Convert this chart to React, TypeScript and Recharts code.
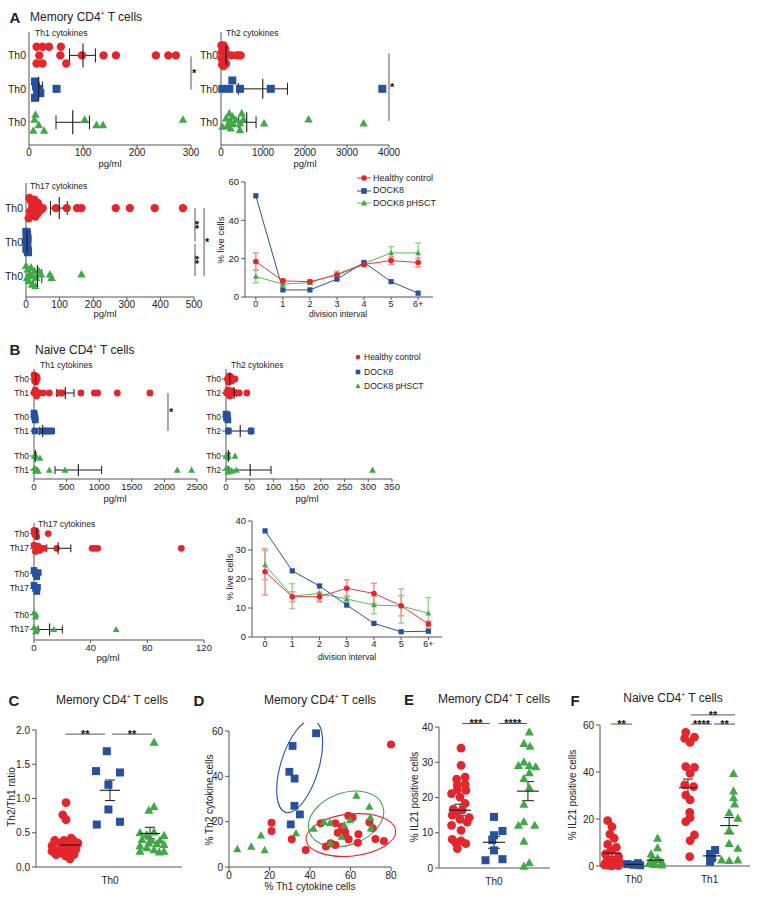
import React from 'react'
import {
  ScatterChart, Scatter, LineChart, Line, XAxis, YAxis, ErrorBar, ReferenceLine, ReferenceDot, Legend,
} from 'recharts'

const RED = '#e4252b'
const BLUE = '#27509e'
const GREEN = '#3fa947'
const INK = '#222'
const AXIS = '#555'
const FONT = '"Liberation Sans", Arial, Helvetica, sans-serif'

const groupNames = ['Healthy control', 'DOCK8', 'DOCK8 pHSCT']
const groupColors = [RED, BLUE, GREEN]
const groupKinds = ['dot', 'sq', 'tri']
const lineColors = ['#e8373c', '#2d50a0', '#5ab65a']
const errColors = ['#ef9494', '#2d50a0', '#98d193']

// ---------- A: memory CD4 cytokines, [pg/ml, row jitter]
const memRows = [3, 2, 1]
const memTh1Hc = [[14, .26], [25, .26], [37, .26], [59, .26], [19, 0], [58, 0], [98, 0], [138, 0], [161, 0], [235, 0], [258, 0], [272, 0], [14, -.24], [25, -.24], [69, -.24]]
const memTh1D8 = [[11, .22], [13, .07], [19, 0], [21, -.13], [11, -.27], [15, -.08], [51, 0]]
const memTh1Ph = [[12, .23], [10, .08], [18, -.08], [8, -.25], [28, -.25], [103, .08], [125, -.08], [137, -.08], [285, .08]]
const memTh1Stats = [[100, 75, 123], [18, 13, 25], [81, 50, 112]]
const memTh1Sig = [[300, 2.97, 300, 1.98, '*', 'right']]

const memTh2Hc = [[10, .3], [30, .25], [60, .3], [100, .2], [20, .1], [80, .12], [130, .05], [40, 0], [70, -.05], [110, 0], [15, -.1], [50, -.15], [90, -.2], [25, -.28], [120, -.25], [60, -.32], [254, 0], [374, 0], [437, 0], [469, 0]]
const memTh2D8 = [[32, 0], [199, 0], [270, .25], [453, 0], [1185, 0], [3841, 0]]
const memTh2Ph = [[32, -.13], [119, .12], [199, .27], [278, .17], [358, .07], [151, -.11], [231, -.18], [175, -.05], [294, -.05], [453, -.03], [493, .27], [533, .09], [453, -.23], [215, .05], [1026, -.03], [2083, .09], [3396, -.03]]
const memTh2Stats = [[120, 95, 150], [994, 414, 1582], [612, 421, 835]]
const memTh2Sig = [[4000, 3.06, 4000, 1.04, '*', 'right']]

const memTh17Hc = [[10, .3], [15, .2], [25, .25], [35, .15], [20, .1], [30, 0], [40, .05], [45, -.05], [12, -.1], [22, -.2], [35, -.15], [50, 0], [8, -.3], [28, -.25], [18, 0], [89, 0], [121, 0], [152, 0], [165, 0], [267, 0], [309, 0], [383, 0], [467, 0]]
const memTh17D8 = [[1, .3], [3, .2], [5, .1], [2, 0], [4, -.1], [1, -.2], [6, -.3], [3, .25], [1, .05], [5, -.25]]
const memTh17Ph = [[0, .3], [5, .2], [15, .25], [25, .15], [10, .05], [20, 0], [30, -.05], [45, .05], [8, -.15], [18, -.25], [28, -.3], [3, -.05], [38, .15], [71, .05], [76, -.05], [165, .05]]
const memTh17Stats = [[99, 73, 123], [3, 2, 4], [34, 22, 47]]
const memTh17Sig = [[503, 3, 503, 2.02, '**', 'center', 90], [503, 1.95, 503, 1, '**', 'center', 90], [530, 3, 530, 1, '*', 'right']]

// ---------- B: naive CD4 cytokines, rows = HC Th0, HC ThX, DOCK8 Th0, DOCK8 ThX, pHSCT Th0, pHSCT ThX
const naiRows = [10, 8.6, 6.2, 4.8, 2.3, 0.9]
const naiTh1Hc0 = [[0, .4], [15, 0], [30, -.3], [45, .2], [10, -.2], [25, .3], [50, 0]]
const naiTh1Hc1 = [[0, 0], [20, .3], [40, -.3], [60, 0], [31, .1], [82, 0], [143, 0], [235, 0], [388, 0], [429, 0], [720, 0], [925, 0], [976, 0], [1278, 0], [1778, 0]]
const naiTh1D80 = [[0, .4], [10, 0], [20, -.3], [5, .2], [15, -.1]]
const naiTh1D81 = [[15, 0], [118, 0], [194, 0], [245, 0], [271, 0]]
const naiTh1Ph0 = [[5, 0], [31, 0], [92, -.2]]
const naiTh1Ph1 = [[5, .2], [20, -.1], [40, .1], [66, -.1], [235, 0], [475, 0], [2197, 0], [2417, 0]]
const naiTh1Stats = [[25, 15, 35], [480, 348, 613], null, [133, 85, 180], [20, 10, 30], [680, 322, 1037]]
const naiTh1Sig = [[2055, 8.6, 2055, 4.8, '*', 'right']]

const naiTh2Hc0 = [[3, 0], [7, .3], [12, -.2], [19, 0], [5, -.3], [10, .2]]
const naiTh2Hc2 = [[1, 0], [4, .3], [8, -.3], [12, .2], [6, -.1], [19, 0], [28, 0], [44, 0]]
const naiTh2D80 = [[0, .3], [2, 0], [4, -.3], [1, -.1], [3, .2]]
const naiTh2D82 = [[5, 0], [53, 0]]
const naiTh2Ph0 = [[0, 0], [5, 0], [19, 0]]
const naiTh2Ph2 = [[1, .2], [4, -.2], [8, 0], [12, -.1], [22, 0], [309, 0]]
const naiTh2Stats = [[8, 5, 11], [17, 12, 22], null, [30, 5, 53], [5, 2, 8], [51, 5, 95]]

const naiTh17Hc0 = [[0, .3], [1, 0], [2, -.3], [.5, -.1], [1.5, .2], [10, 0]]
const naiTh17Hc17 = [[0, .3], [1, -.3], [2, 0], [3, .2], [4, -.2], [5, 0], [7, 0], [16, 0], [41, 0], [43, 0], [45, 0], [104, 0]]
const naiTh17D80 = [[0, .3], [1, 0], [2, -.3], [3, .1]]
const naiTh17D817 = [[0, .3], [1, 0], [2, -.3], [2.5, .1]]
const naiTh17Ph0 = [[0, .2], [1, -.2], [1.5, 0]]
const naiTh17Ph17 = [[0, .2], [1, -.2], [2, 0], [14, 0], [58, 0]]
const naiTh17Stats = [[2, 1, 3], [17, 9, 26], null, null, null, [11, 3, 20]]

// ---------- proliferation (% live cells per division)
const divisions = [0, 1, 2, 3, 4, 5, 6]
const divisionLabels = ['0', '1', '2', '3', '4', '5', '6+']
const memLiveHc = [18.5, 8.4, 8, 11.5, 17, 19, 18]
const memLiveHcSem = [4.5, 1, 0.8, 1, 1, 2, 2.3]
const memLiveD8 = [52.8, 3.7, 3.7, 9.3, 18, 8, 2]
const memLivePh = [10.7, 6.7, 7.5, 12, 17.4, 23, 23]
const memLivePhSem = [3.3, 1, 1, 1.5, 1, 3.3, 5.2]
const naiLiveHc = [22.5, 13.9, 13.9, 16.8, 15, 10.8, 4.5]
const naiLiveHcSem = [8, 1.7, 1.5, 2.9, 3.5, 3.5, 1]
const naiLiveD8 = [36.6, 22.8, 17.6, 11, 4.7, 1.8, 2]
const naiLivePh = [24.8, 14.1, 15, 13.1, 11, 10.7, 8.2]
const naiLivePhSem = [5, 4.3, 3, 1, 3, 5.9, 5.4]

// ---------- C: Th2/Th1 ratio, [x jitter, value]
const ratioHc = [[-.1, .94], [-.18, .76], [-.1, .69], [.03, .42], [-.38, .39], [-.15, .39], [.1, .38], [-.25, .35], [0, .35], [-.45, .31], [.05, .31], [-.15, .28], [.15, .26], [-.3, .24], [-.45, .23], [-.05, .23], [.05, .21], [-.2, .2], [-.35, .18], [.1, .18], [-.1, .16], [0, .12], [.2, .35], [-.2, .31], [.08, .25]]
const ratioD8 = [[-.08, 1.69], [-.35, 1.4], [.25, 1.38], [-.04, 1.2], [-.04, .84], [-.33, .62], [.25, .66]]
const ratioPh = [[.1, 1.82], [.1, .88], [-.03, .83], [-.25, .5], [-.08, .47], [.1, .51], [.35, .46], [-.2, .4], [.04, .39], [.25, .39], [-.03, .35], [.17, .34], [-.25, .31], [.35, .33], [-.08, .28], [.1, .25], [-.25, .23], [.23, .22], [.35, .23]]
const ratioStats = [[.32, .28, .36], [1.12, .97, 1.27], [.49, .41, .58]]
const ratioSig = [[0.88, 1.94, 1.88, 1.94, '**', 'center'], [2.05, 1.94, 3.05, 1.94, '**', 'center']]

// ---------- D: % Th1 vs % Th2 cytokine cells
const cytoHc = [[21, 19.5], [21, 15.9], [31, 12.2], [37.9, 7.5], [45.3, 19.3], [47.9, 9], [50.2, 10.5], [52.5, 9.7], [52.5, 19.3], [53.7, 15.1], [55.8, 17.8], [57.3, 15.6], [57.4, 13.7], [59.1, 12.2], [58.9, 22.6], [61, 21.8], [63.9, 14.4], [63.6, 10.7], [69.3, 19.7], [71, 17.1], [72.3, 12.4], [76.5, 11.5], [80, 54]]
const cytoD8 = [[43, 59], [31.4, 53.4], [29.8, 42], [32.4, 39], [32.3, 27], [35, 23.2], [30.5, 18.8]]
const cytoPh = [[4.1, 7.9], [11, 9], [15.8, 14], [17.6, 7.5], [33.1, 14.9], [41.8, 16.9], [46.9, 19.9], [49.9, 19.5], [50, 10.5], [56.9, 18.5], [55.6, 13.4], [59.8, 20.7], [62.9, 31.5], [69.3, 26.6], [69.8, 21.8], [70.1, 17.1]]

// ---------- E: memory % IL21+
const il21MemHc = [[.03, 34], [.03, 29.1], [.15, 25.8], [-.1, 25.2], [.15, 23.7], [-.08, 23.6], [-.08, 22.3], [.17, 22], [-.25, 21.1], [0, 20.1], [.15, 18.3], [-.2, 16.7], [.06, 16.4], [-.13, 15.7], [.27, 14.3], [-.23, 15], [0, 13.8], [.21, 13], [-.25, 12.1], [.03, 10.7], [-.23, 8.1], [.03, 7.7], [-.13, 7.2], [.17, 6.9], [-.08, 5.5]]
const il21MemD8 = [[0, 14.5], [.25, 10.5], [0, 9.3], [-.05, 7.9], [0, 5], [-.25, 2.2], [.25, 2.5]]
const il21MemPh = [[.04, 38.6], [-.12, 35.3], [.06, 34.5], [-.12, 30.1], [-.28, 29.1], [.04, 29.1], [.23, 28.7], [.04, 27], [-.12, 25.4], [.04, 22.8], [-.12, 18.1], [-.12, 13.1], [.2, 12.1], [-.28, 12.1], [-.12, 7.6], [.04, 1.5], [-.12, .5]]
const il21MemStats = [[16.4, 14.8, 18.1], [7.3, 5.6, 9], [21.8, 19.1, 24.5]]
const il21MemSig = [[1.06, 41, 1.88, 41, '***', 'center'], [2.14, 41, 2.97, 41, '****', 'center']]

// ---------- F: naive % IL21+
const il21NaiHc0 = [[-.2, 19.3], [0, 16.7], [-.1, 13.6], [.1, 11.8], [-.2, 9.2], [.2, 7.9], [0, 6.5], [-.3, 5.1], [.3, 4], [-.1, 2.6], [.2, 1.8], [-.3, 1.1], [.1, .7], [-.2, .4], [.3, .2], [0, .1], [-.35, .5], [.35, 1.5], [-.1, .3], [.15, .8], [-.25, 2]]
const il21NaiD80 = [[-.3, .8], [.2, 1.2], [.3, .3], [0, .5]]
const il21NaiPh0 = [[.1, 11.8], [.1, 7.8], [-.2, 5.1], [.1, 3.3], [-.2, 2.6], [.3, 1.6], [-.3, 1.1], [0, .6], [.3, .4], [-.1, .7]]
const il21NaiHc1 = [[-.1, 56.9], [-.15, 54.3], [.3, 54.8], [.1, 52.6], [-.1, 42.3], [.3, 42], [.1, 39.4], [-.15, 34.5], [.26, 33.8], [-.1, 30.2], [.1, 28.1], [.08, 22.8], [.1, 20.6], [-.1, 18.9], [.3, 13.2], [.1, 10.8], [.08, 4]]
const il21NaiD81 = [[.15, 6.8], [-.08, 5.1], [0, 3.3], [-.08, 1.8]]
const il21NaiPh1 = [[.2, 39.4], [.2, 31.9], [.2, 29.1], [.25, 26.4], [0, 22.7], [.4, 20.3], [0, 15.3], [0, 9.6], [.4, 7.5], [-.35, 2.6], [0, 2.3], [.4, 2.6]]
const il21NaiStats = [[5.5, 4, 7], [.7, .3, 1.1], [2.5, 1.6, 3.5], [33.3, 29.5, 37], [4.3, 2.8, 5.8], [17.2, 13.7, 20.6]]
const il21NaiSig = [[0.95, 60.4, 1.92, 60.4, '**', 'center'], [4.64, 60.4, 5.61, 60.4, '****', 'center'], [5.7, 60.4, 6.67, 60.4, '**', 'center'], [4.64, 64.3, 6.67, 64.3, '**', 'center']]

function Mark(props: any) {
  const { cx, cy, kind, color, s } = props
  if (cx == null || cy == null || Number.isNaN(cx) || Number.isNaN(cy)) return <g />
  if (kind === 'sq') return <rect x={cx - s} y={cy - s} width={2 * s} height={2 * s} fill={color} />
  if (kind === 'tri')
    return <polygon points={`${cx},${cy - 1.15 * s} ${cx - 1.1 * s},${cy + 0.85 * s} ${cx + 1.1 * s},${cy + 0.85 * s}`} fill={color} />
  return <circle cx={cx} cy={cy} r={s} fill={color} />
}

function MeanTick(props: any) {
  const { cx, cy, horiz, len } = props
  if (cx == null || cy == null) return <g />
  return horiz
    ? <line x1={cx} x2={cx} y1={cy - len} y2={cy + len} stroke="#1a1a1a" strokeWidth={1.1} />
    : <line x1={cx - len} x2={cx + len} y1={cy} y2={cy} stroke="#1a1a1a" strokeWidth={1.1} />
}

function Ring(props: any) {
  const { cx, cy, rx, ry, rot, color } = props
  if (cx == null || cy == null) return <g />
  return <ellipse cx={cx} cy={cy} rx={rx} ry={ry} transform={`rotate(${rot} ${cx} ${cy})`} fill="none" stroke={color} strokeWidth={1.1} />
}

function KeyList({ withLine, size, gap }: any) {
  return (
    <div style={{ fontSize: size, lineHeight: `${gap}px`, color: INK, fontFamily: FONT }}>
      {groupNames.map((name, i) => (
        <div key={name} style={{ display: 'flex', alignItems: 'center', whiteSpace: 'nowrap' }}>
          <svg width={withLine ? 14 : 8} height={10} style={{ marginRight: 2 }}>
            {withLine && <line x1={0} x2={14} y1={5} y2={5} stroke={lineColors[i]} strokeWidth={1} />}
            <Mark cx={withLine ? 7 : 4} cy={5} kind={groupKinds[i]} color={groupColors[i]} s={withLine ? 2.8 : 2.3} />
          </svg>
          <span>{name}</span>
        </div>
      ))}
    </div>
  )
}

function DotPlot(props: any) {
  const { box, yw, mr = 8, mt = 4, xh, horiz, xAxis, yAxis, groups, sigs = [], sizes, meanLen, capLen, children } = props
  const [x0, x1, y0, y1] = box
  const width = x1 - x0 + yw + mr
  const height = y1 - y0 + mt + xh
  return (
    <div style={{ position: 'absolute', left: x0 - yw, top: y0 - mt }}>
      <ScatterChart width={width} height={height} margin={{ top: mt, right: mr, bottom: 0, left: 0 }}>
        <XAxis type="number" dataKey="x" height={xh} stroke={AXIS} interval={0} tick={{ fontSize: 10, fill: INK }} {...xAxis} />
        <YAxis type="number" dataKey="y" width={yw} stroke={AXIS} interval={0} tick={{ fontSize: 10, fill: INK }} {...yAxis} />
        {groups.map((gr: any, i: number) => (
          <Scatter
            key={'pts' + i}
            data={gr.pts.map(([a, b]: number[]) => (horiz ? { x: a, y: gr.at + b } : { x: gr.at + a, y: b }))}
            fill={groupColors[gr.g]}
            shape={(p: any) => <Mark {...p} kind={groupKinds[gr.g]} color={groupColors[gr.g]} s={sizes[gr.g]} />}
            isAnimationActive={false}
          />
        ))}
        {groups.filter((gr: any) => gr.stat).map((gr: any, i: number) => {
          const [m, lo, hi] = gr.stat
          const pt = horiz ? { x: m, y: gr.at, err: [m - lo, hi - m] } : { x: gr.at, y: m, err: [m - lo, hi - m] }
          return (
            <Scatter key={'sem' + i} data={[pt]} shape={(p: any) => <MeanTick {...p} horiz={horiz} len={meanLen} />} isAnimationActive={false}>
              <ErrorBar dataKey="err" direction={horiz ? 'x' : 'y'} width={capLen} stroke="#1a1a1a" strokeWidth={1} />
            </Scatter>
          )
        })}
        {sigs.map((s: any, i: number) => (
          <ReferenceLine
            key={'sig' + i}
            segment={[{ x: s[0], y: s[1] }, { x: s[2], y: s[3] }]}
            stroke="#555"
            ifOverflow="visible"
            label={{ value: s[4], position: s[5], fontSize: 11, fontWeight: 700, fill: '#111', offset: 1, angle: s[6] || 0 }}
          />
        ))}
        {children}
      </ScatterChart>
    </div>
  )
}

function Growth(props: any) {
  const { box, yw, mr, mt, xh, xDomain, yDomain, yTicks, hc, hcSem, d8, ph, phSem, legendAt } = props
  const [x0, x1, y0, y1] = box
  const left = x0 - yw
  const top = y0 - mt
  const rows = divisions.map((d, i) => ({ x: d, hc: hc[i], hcSem: hcSem[i], d8: d8[i], ph: ph[i], phSem: phSem[i] }))
  return (
    <div style={{ position: 'absolute', left, top }}>
      <LineChart width={x1 - x0 + yw + mr} height={y1 - y0 + mt + xh} data={rows} margin={{ top: mt, right: mr, bottom: 0, left: 0 }}>
        <XAxis type="number" dataKey="x" domain={xDomain} ticks={divisions} interval={0} tickFormatter={(v: number) => divisionLabels[v]} height={xh} stroke={AXIS} tickSize={3} tickMargin={1} tick={{ fontSize: 9, fill: INK }} />
        <YAxis type="number" domain={yDomain} ticks={yTicks} width={yw} stroke={AXIS} tickSize={4} tickMargin={2} interval={0} tick={{ fontSize: 9.5, fill: INK }} />
        <Line dataKey="ph" stroke={lineColors[2]} strokeWidth={1} isAnimationActive={false}
          dot={(p: any) => <Mark key={'g' + p.index} cx={p.cx} cy={p.cy} kind="tri" color={GREEN} s={2.6} />}>
          <ErrorBar dataKey="phSem" direction="y" width={3} stroke={errColors[2]} />
        </Line>
        <Line dataKey="d8" stroke={lineColors[1]} strokeWidth={1} isAnimationActive={false}
          dot={(p: any) => <Mark key={'b' + p.index} cx={p.cx} cy={p.cy} kind="sq" color={BLUE} s={2.6} />} />
        <Line dataKey="hc" stroke={lineColors[0]} strokeWidth={1} isAnimationActive={false}
          dot={(p: any) => <Mark key={'r' + p.index} cx={p.cx} cy={p.cy} kind="dot" color={RED} s={2.8} />}>
          <ErrorBar dataKey="hcSem" direction="y" width={3} stroke={errColors[0]} />
        </Line>
        {legendAt && (
          <Legend layout="vertical" verticalAlign="middle" align="center"
            wrapperStyle={{ left: legendAt[0] - left, top: legendAt[1] - top, width: 100 }}
            content={() => <KeyList withLine size={9} gap={12.7} />} />
        )}
      </LineChart>
    </div>
  )
}

function Txt({ x, y, children, size = 10, bold = false, rot = 0, anchor = 'middle' }: any) {
  const tx = anchor === 'middle' ? '-50%' : anchor === 'end' ? '-100%' : '0'
  return (
    <div style={{
      position: 'absolute', left: x, top: y, whiteSpace: 'nowrap', fontSize: size, lineHeight: 1,
      fontWeight: bold ? 700 : 400, color: INK,
      transform: `translate(${tx}, -50%)${rot ? ` rotate(${rot}deg)` : ''}`,
    }}>{children}</div>
  )
}

const Cd4 = ({ name }: any) => <>{name} CD4<sup style={{ fontSize: '0.55em' }}>+</sup> T cells</>

const memSizes = [4.2, 4, 3.8]
const naiSizes = [3.4, 3.3, 3.1]
const colSizes = [4.4, 4, 4.1]

const memRowAxis = (domain: number[]) => ({
  domain, ticks: memRows, tickFormatter: () => 'Th0', tickLine: false, tickSize: 0, tickMargin: 3, tick: { fontSize: 10.5, fill: INK },
})
const naiRowAxis = (labels: string[], domain: number[]) => ({
  domain, ticks: naiRows, tickFormatter: (v: number) => labels[naiRows.indexOf(v)], tickSize: 4, tickMargin: 1, tick: { fontSize: 8.5, fill: INK },
})
const naiGroups = (sets: number[][][], stats: any[]) =>
  sets.map((pts, i) => ({ pts, at: naiRows[i], g: Math.floor(i / 2), stat: stats[i] }))

export default function App() {
  return (
    <div style={{ position: 'absolute', left: 0, top: 0, width: 764, height: 899, background: '#fff', fontFamily: FONT, color: INK, overflow: 'hidden' }}>
      {/* A */}
      <DotPlot box={[29, 191, 32, 145]} yw={29} mr={14} xh={16} horiz sizes={memSizes} meanLen={12} capLen={7}
        xAxis={{ domain: [0, 300], ticks: [0, 100, 200, 300], tickSize: 3, tickMargin: 1 }}
        yAxis={memRowAxis([0.32, 3.7])}
        groups={[memTh1Hc, memTh1D8, memTh1Ph].map((pts, i) => ({ pts, at: memRows[i], g: i, stat: memTh1Stats[i] }))}
        sigs={memTh1Sig} />
      <DotPlot box={[221, 389, 32, 145]} yw={26} mr={14} xh={16} horiz sizes={memSizes} meanLen={10} capLen={6}
        xAxis={{ domain: [0, 4000], ticks: [0, 1000, 2000, 3000, 4000], tickSize: 3, tickMargin: 1 }}
        yAxis={memRowAxis([0.32, 3.7])}
        groups={[memTh2Hc, memTh2D8, memTh2Ph].map((pts, i) => ({ pts, at: memRows[i], g: i, stat: memTh2Stats[i] }))}
        sigs={memTh2Sig} />
      <DotPlot box={[26, 194, 183, 297]} yw={26} mr={22} xh={16} horiz sizes={memSizes} meanLen={11} capLen={7}
        xAxis={{ domain: [0, 500], ticks: [0, 100, 200, 300, 400, 500], tickSize: 3, tickMargin: 1 }}
        yAxis={memRowAxis([0.38, 3.74])}
        groups={[memTh17Hc, memTh17D8, memTh17Ph].map((pts, i) => ({ pts, at: memRows[i], g: i, stat: memTh17Stats[i] }))}
        sigs={memTh17Sig} />
      <Growth box={[245, 433, 182, 297]} yw={20} mr={6} mt={6} xh={16} xDomain={[-0.4, 6.55]} yDomain={[0, 60]} yTicks={[0, 20, 40, 60]}
        hc={memLiveHc} hcSem={memLiveHcSem} d8={memLiveD8} ph={memLivePh} phSem={memLivePhSem} legendAt={[357, 171.5]} />

      {/* B */}
      <DotPlot box={[34, 197, 369, 479]} yw={34} mr={16} xh={16} horiz sizes={naiSizes} meanLen={6} capLen={4}
        xAxis={{ domain: [0, 2500], ticks: [0, 500, 1000, 1500, 2000, 2500], tickSize: 3, tickMargin: 1, tick: { fontSize: 9.5, fill: INK } }}
        yAxis={naiRowAxis(['Th0', 'Th1', 'Th0', 'Th1', 'Th0', 'Th1'], [0, 11])}
        groups={naiGroups([naiTh1Hc0, naiTh1Hc1, naiTh1D80, naiTh1D81, naiTh1Ph0, naiTh1Ph1], naiTh1Stats)}
        sigs={naiTh1Sig} />
      <DotPlot box={[226, 392, 369, 479]} yw={32} mr={12} xh={16} horiz sizes={naiSizes} meanLen={6} capLen={4}
        xAxis={{ domain: [0, 350], ticks: [0, 50, 100, 150, 200, 250, 300, 350], tickSize: 3, tickMargin: 1, tick: { fontSize: 9.5, fill: INK } }}
        yAxis={naiRowAxis(['Th0', 'Th2', 'Th0', 'Th2', 'Th0', 'Th2'], [0, 11])}
        groups={naiGroups([naiTh2Hc0, naiTh2Hc2, naiTh2D80, naiTh2D82, naiTh2Ph0, naiTh2Ph2], naiTh2Stats)}>
        <Legend layout="vertical" verticalAlign="middle" align="center"
          wrapperStyle={{ left: 354 - 194, top: 350 - 365, width: 100 }}
          content={() => <KeyList size={8.5} gap={14.5} />} />
      </DotPlot>
      <DotPlot box={[34, 204, 523, 640]} yw={34} mr={12} xh={16} horiz sizes={naiSizes} meanLen={6} capLen={4}
        xAxis={{ domain: [0, 120], ticks: [0, 40, 80, 120], tickSize: 3, tickMargin: 1, tick: { fontSize: 9.5, fill: INK } }}
        yAxis={naiRowAxis(['Th0', 'Th17', 'Th0', 'Th17', 'Th0', 'Th17'], [-0.1, 11])}
        groups={naiGroups([naiTh17Hc0, naiTh17Hc17, naiTh17D80, naiTh17D817, naiTh17Ph0, naiTh17Ph17], naiTh17Stats)} />
      <Growth box={[252, 442, 521, 637]} yw={20} mr={6} mt={6} xh={16} xDomain={[-0.48, 6.5]} yDomain={[0, 40]} yTicks={[0, 10, 20, 30, 40]}
        hc={naiLiveHc} hcSem={naiLiveHcSem} d8={naiLiveD8} ph={naiLivePh} phSem={naiLivePhSem} />

      {/* C */}
      <DotPlot box={[36, 182, 730, 867]} yw={36} mr={6} mt={14} xh={22} sizes={colSizes} meanLen={10} capLen={5}
        xAxis={{ domain: [0.15, 3.8], ticks: [2], tickFormatter: () => 'Th0', tickLine: false, tickMargin: 4 }}
        yAxis={{ domain: [0, 2], ticks: [0, 0.5, 1, 1.5, 2], tickFormatter: (v: number) => v.toFixed(1), tickSize: 4, tickMargin: 2 }}
        groups={[ratioHc, ratioD8, ratioPh].map((pts, i) => ({ pts, at: i + 1, g: i, stat: ratioStats[i] }))}
        sigs={ratioSig} />

      {/* D */}
      <div style={{ position: 'absolute', left: 229 - 22, top: 731 - 8 }}>
        <ScatterChart width={391 - 229 + 22 + 10} height={867 - 731 + 8 + 18} margin={{ top: 8, right: 10, bottom: 0, left: 0 }}>
          <XAxis type="number" dataKey="x" domain={[0, 80]} ticks={[0, 20, 40, 60, 80]} interval={0} height={18} stroke={AXIS} tickSize={4} tickMargin={1} tick={{ fontSize: 10, fill: INK }} />
          <YAxis type="number" dataKey="y" domain={[0, 60]} ticks={[0, 20, 40, 60]} interval={0} width={22} stroke={AXIS} tickSize={4} tickMargin={2} tick={{ fontSize: 10, fill: INK }} />
          <ReferenceDot x={34.9} y={44.4} ifOverflow="visible" shape={(p: any) => <Ring {...p} rx={19} ry={48} rot={17} color={BLUE} />} />
          <ReferenceDot x={57.8} y={21.2} ifOverflow="visible" shape={(p: any) => <Ring {...p} rx={39} ry={26} rot={-20} color={GREEN} />} />
          <ReferenceDot x={60.2} y={14.1} ifOverflow="visible" shape={(p: any) => <Ring {...p} rx={45} ry={21} rot={-6} color={RED} />} />
          {[cytoHc, cytoD8, cytoPh].map((pts, i) => (
            <Scatter key={i} data={pts.map(([x, y]) => ({ x, y }))} fill={groupColors[i]}
              shape={(p: any) => <Mark {...p} kind={groupKinds[i]} color={groupColors[i]} s={[4, 3.9, 3.7][i]} />}
              isAnimationActive={false} />
          ))}
        </ScatterChart>
      </div>

      {/* E */}
      <DotPlot box={[439, 550, 727, 868]} yw={24} mr={6} mt={22} xh={22} sizes={colSizes} meanLen={11} capLen={6}
        xAxis={{ domain: [0.38, 3.65], ticks: [2], tickFormatter: () => 'Th0', tickLine: false, tickMargin: 4 }}
        yAxis={{ domain: [0, 40], ticks: [0, 10, 20, 30, 40], tickSize: 4, tickMargin: 2 }}
        groups={[il21MemHc, il21MemD8, il21MemPh].map((pts, i) => ({ pts, at: i + 1, g: i, stat: il21MemStats[i] }))}
        sigs={il21MemSig} />

      {/* F */}
      <DotPlot box={[600, 750, 725, 866]} yw={22} mr={8} mt={26} xh={22} sizes={colSizes} meanLen={9} capLen={5}
        xAxis={{ domain: [0.447, 7.36], ticks: [2, 5.5], tickFormatter: (v: number) => (v < 3 ? 'Th0' : 'Th1'), tickLine: false, tickMargin: 4 }}
        yAxis={{ domain: [0, 60], ticks: [0, 20, 40, 60], tickSize: 4, tickMargin: 2 }}
        groups={[il21NaiHc0, il21NaiD80, il21NaiPh0, il21NaiHc1, il21NaiD81, il21NaiPh1].map((pts, i) => ({ pts, at: [1, 2, 3, 4.5, 5.6, 6.4][i], g: i % 3, stat: il21NaiStats[i] }))}
        sigs={il21NaiSig} />

      {/* text */}
      <Txt x={15} y={17} size={15} bold>A</Txt>
      <Txt x={30} y={17} size={12} anchor="start"><Cd4 name="Memory" /></Txt>
      <Txt x={35} y={33} size={8.5} anchor="start">Th1 cytokines</Txt>
      <Txt x={226} y={33} size={8.5} anchor="start">Th2 cytokines</Txt>
      <Txt x={110} y={164} size={9.5}>pg/ml</Txt>
      <Txt x={305} y={164} size={9.5}>pg/ml</Txt>
      <Txt x={30} y={186} size={8.5} anchor="start">Th17 cytokines</Txt>
      <Txt x={105} y={314} size={9.5}>pg/ml</Txt>
      <Txt x={221} y={240} size={9.5} rot={-90}>% live cells</Txt>
      <Txt x={338} y={314} size={8.5}>division interval</Txt>

      <Txt x={15} y={349} size={15} bold>B</Txt>
      <Txt x={35} y={350} size={12} anchor="start"><Cd4 name="Naive" /></Txt>
      <Txt x={40} y={365} size={8.5} anchor="start">Th1 cytokines</Txt>
      <Txt x={231} y={365} size={8.5} anchor="start">Th2 cytokines</Txt>
      <Txt x={115} y={499} size={9.5}>pg/ml</Txt>
      <Txt x={307} y={499} size={9.5}>pg/ml</Txt>
      <Txt x={38} y={524} size={8.5} anchor="start">Th17 cytokines</Txt>
      <Txt x={108} y={658} size={9.5}>pg/ml</Txt>
      <Txt x={230} y={577} size={9.5} rot={-90}>% live cells</Txt>
      <Txt x={347} y={657} size={8.5}>division interval</Txt>

      <Txt x={14} y={700} size={15} bold>C</Txt>
      <Txt x={112} y={700} size={12}><Cd4 name="Memory" /></Txt>
      <Txt x={12} y={797} size={10} rot={-90}>Th2/Th1 ratio</Txt>

      <Txt x={199} y={700} size={15} bold>D</Txt>
      <Txt x={320} y={700} size={12}><Cd4 name="Memory" /></Txt>
      <Txt x={210} y={800} size={10} rot={-90}>% Th2 cytokine cells</Txt>
      <Txt x={310} y={887} size={10}>% Th1 cytokine cells</Txt>

      <Txt x={409} y={699} size={15} bold>E</Txt>
      <Txt x={494} y={699} size={12}><Cd4 name="Memory" /></Txt>
      <Txt x={415} y={797} size={10} rot={-90}>% IL21 positive cells</Txt>

      <Txt x={575} y={700} size={15} bold>F</Txt>
      <Txt x={673} y={698} size={12}><Cd4 name="Naive" /></Txt>
      <Txt x={573} y={795} size={10} rot={-90}>% IL21 positive cells</Txt>
    </div>
  )
}
